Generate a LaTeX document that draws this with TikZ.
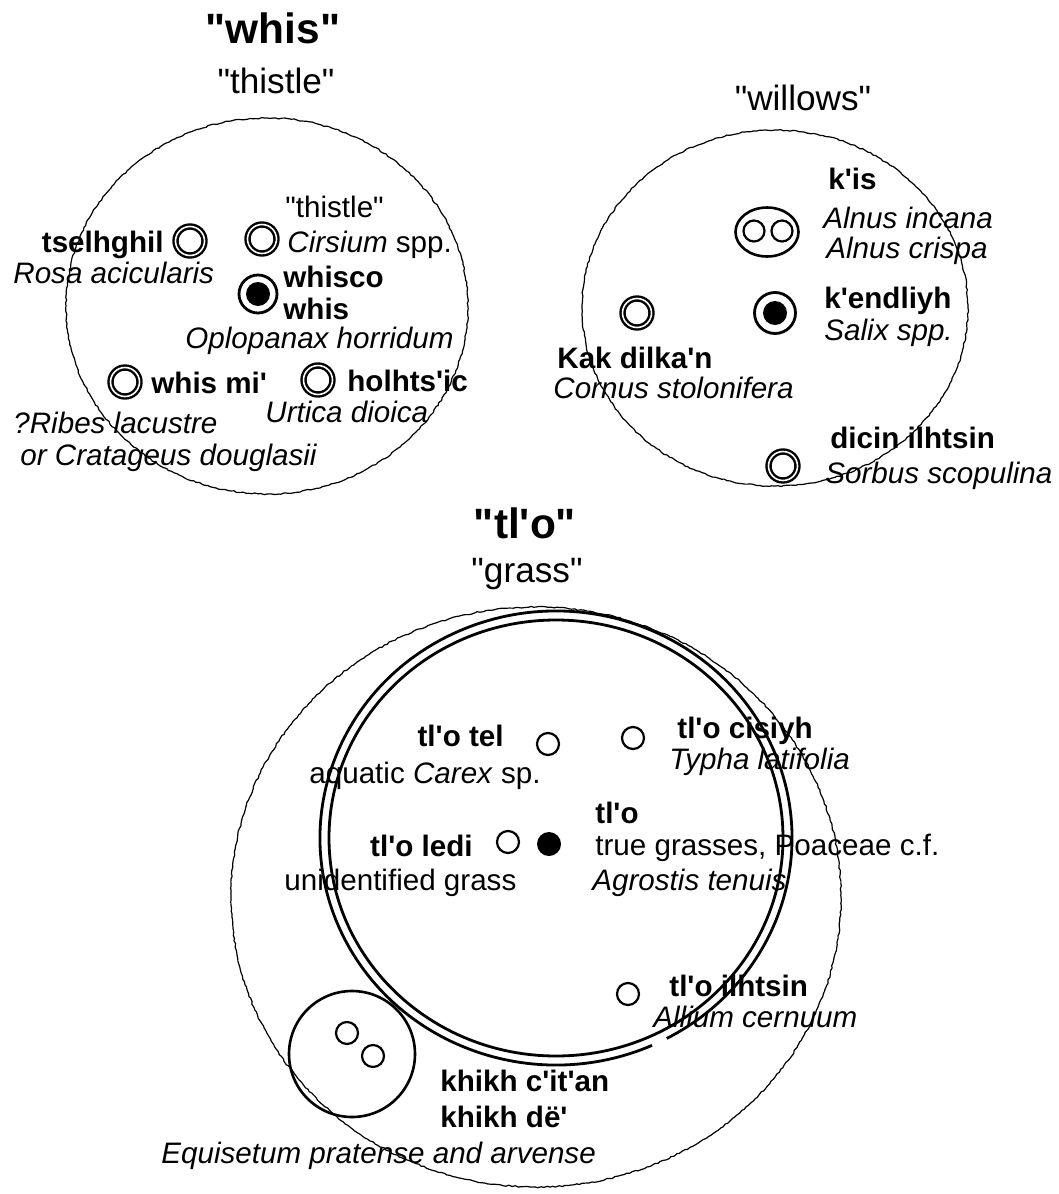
\documentclass[tikz,border=0pt]{standalone}
\usepackage{fontspec}
\setmainfont{Liberation Sans}[Ligatures=TeXOff]
\usetikzlibrary{shapes.geometric,decorations.pathmorphing}

\tikzset{
	ring/.style={circle, draw, double, line width=1.2pt, double distance=0.8pt, inner sep=0pt, minimum size=14.5pt},
	core/.style={circle, draw, line width=1.4pt, inner sep=0pt, minimum size=19pt,
		path picture={\fill (path picture bounding box.center) circle (6pt);}},
	dot/.style={circle, draw, line width=1.1pt, inner sep=0pt, minimum size=11pt},
	kind/.style={anchor=base west, inner sep=0pt, font=\fontsize{14.8}{17}\selectfont\bfseries},
	taxon/.style={anchor=base west, inner sep=0pt, font=\fontsize{14.8}{17}\selectfont\itshape},
	gloss/.style={anchor=base west, inner sep=0pt, font=\fontsize{14.8}{17}\selectfont},
	heading/.style={anchor=base, inner sep=0pt, font=\fontsize{21.2}{24}\selectfont\bfseries},
	subheading/.style={anchor=base, inner sep=0pt, font=\fontsize{17.6}{20}\selectfont},
	fuzzy/.style={line width=0.6pt, decorate, decoration={random steps, segment length=1.5pt, amplitude=0.35pt}},
}

\begin{document}
\begin{tikzpicture}[x=0.5pt, y=-0.5pt]
	\pgfmathsetseed{7}
	\useasboundingbox (0,0) rectangle (1059,1194);

	\draw[fuzzy] (267,306) ellipse [x radius=201, y radius=188];
	\node[heading] (whis-title) at (273,43) {"whis"};
	\node[subheading] (whis-gloss) at (276,93) {"thistle"};
	\node[ring] (tselhghil) at (190,241) {};
	\node[kind, anchor=base east] (tselhghil-name) at (164,252) {tselhghil};
	\node[taxon] (tselhghil-taxon) at (13,283) {Rosa acicularis};
	\node[ring] (cirsium) at (262,239) {};
	\node[gloss] (cirsium-name) at (285,217) {"thistle"};
	\node[gloss] (cirsium-taxon) at (287,252) {\textit{Cirsium} spp.};
	\node[core] (whisco) at (258,294) {};
	\node[kind] (whisco-name) at (283,287) {whisco};
	\node[kind] (whisco-name2) at (283,319) {whis};
	\node[taxon] (whisco-taxon) at (185,348) {Oplopanax horridum};
	\node[ring] (whismi) at (125,382) {};
	\node[kind] (whismi-name) at (151,393) {whis mi'};
	\node[taxon] (whismi-taxon) at (13,433) {?Ribes lacustre};
	\node[taxon] (whismi-taxon2) at (20,465) {or Cratageus douglasii};
	\node[ring] (holhtsic) at (318,380) {};
	\node[kind] (holhtsic-name) at (347,391) {holhts'ic};
	\node[taxon] (holhtsic-taxon) at (265,422) {Urtica dioica};

	\draw[fuzzy] (775,308) ellipse [x radius=193, y radius=178];
	\node[subheading] (willows-gloss) at (803,110) {"willows"};
	\node[ellipse, draw, line width=1.3pt, inner sep=0pt, minimum width=31.5pt, minimum height=24.5pt] (kis) at (767,232) {};
	\node[dot, minimum size=10.5pt] (alnus-a) at (754,231) {};
	\node[dot, minimum size=10.5pt] (alnus-b) at (782,231) {};
	\node[kind] (kis-name) at (828,189) {k'is};
	\node[taxon] (kis-taxon) at (823,228) {Alnus incana};
	\node[taxon] (kis-taxon2) at (826,258) {Alnus crispa};
	\node[core, minimum size=20.5pt] (kendliyh) at (775,313) {};
	\node[kind] (kendliyh-name) at (824,308) {k'endliyh};
	\node[taxon] (kendliyh-taxon) at (824,340) {Salix spp.};
	\node[ring] (kakdilkan) at (637,313) {};
	\node[kind] (kakdilkan-name) at (557,368) {Kak dilka'n};
	\node[taxon] (kakdilkan-taxon) at (553,398) {Cornus stolonifera};
	\node[ring] (dicin) at (783,466) {};
	\node[kind] (dicin-name) at (830,448) {dicin ilhtsin};
	\node[taxon] (dicin-taxon) at (825,483) {Sorbus scopulina};

	\draw[fuzzy] (536,897) ellipse [x radius=305, y radius=290];
	\node[heading] (tlo-title) at (525,538) {"tl'o"};
	\node[subheading] (tlo-gloss) at (527,582) {"grass"};
	\draw[line width=1.4pt] (556,838) ellipse [x radius=227, y radius=218];
	\draw[line width=1.4pt] (556,838) ++(66:236 and 227) arc[start angle=66, end angle=422, x radius=236, y radius=227];
	\node[dot] (tlotel) at (548,744) {};
	\node[kind, anchor=base east] (tlotel-name) at (504,746) {tl'o tel};
	\node[gloss] (tlotel-taxon) at (309,783) {aquatic \textit{Carex} sp.};
	\node[dot] (tlocisiyh) at (633,738) {};
	\node[kind] (tlocisiyh-name) at (677,738) {tl'o cisiyh};
	\node[taxon] (tlocisiyh-taxon) at (669,769) {Typha latifolia};
	\node[dot] (tloledi) at (508,842) {};
	\node[kind, anchor=base east] (tloledi-name) at (473,856) {tl'o ledi};
	\node[gloss] (tloledi-taxon) at (284,890) {unidentified grass};
	\node[circle, fill, inner sep=0pt, minimum size=12pt] (tlo) at (549,844) {};
	\node[kind] (tlo-name) at (595,823) {tl'o};
	\node[gloss] (tlo-taxon) at (595,855) {true grasses, Poaceae c.f.};
	\node[taxon] (tlo-taxon2) at (592,890) {Agrostis tenuis};
	\node[dot] (tloilhtsin) at (628,994) {};
	\node[kind] (tloilhtsin-name) at (669,996) {tl'o ilhtsin};
	\node[taxon] (tloilhtsin-taxon) at (653,1027) {Allium cernuum};
	\node[circle, draw, line width=1.3pt, inner sep=0pt, minimum size=63pt] (khikh) at (352,1054) {};
	\node[dot] (equisetum-a) at (347,1033) {};
	\node[dot] (equisetum-b) at (373,1056) {};
	\node[kind] (khikh-name) at (440,1091) {khikh c'it'an};
	\node[kind] (khikh-name2) at (440,1127) {khikh dë'};
	\node[taxon] (khikh-taxon) at (161,1163) {Equisetum pratense and arvense};
\end{tikzpicture}
\end{document}
